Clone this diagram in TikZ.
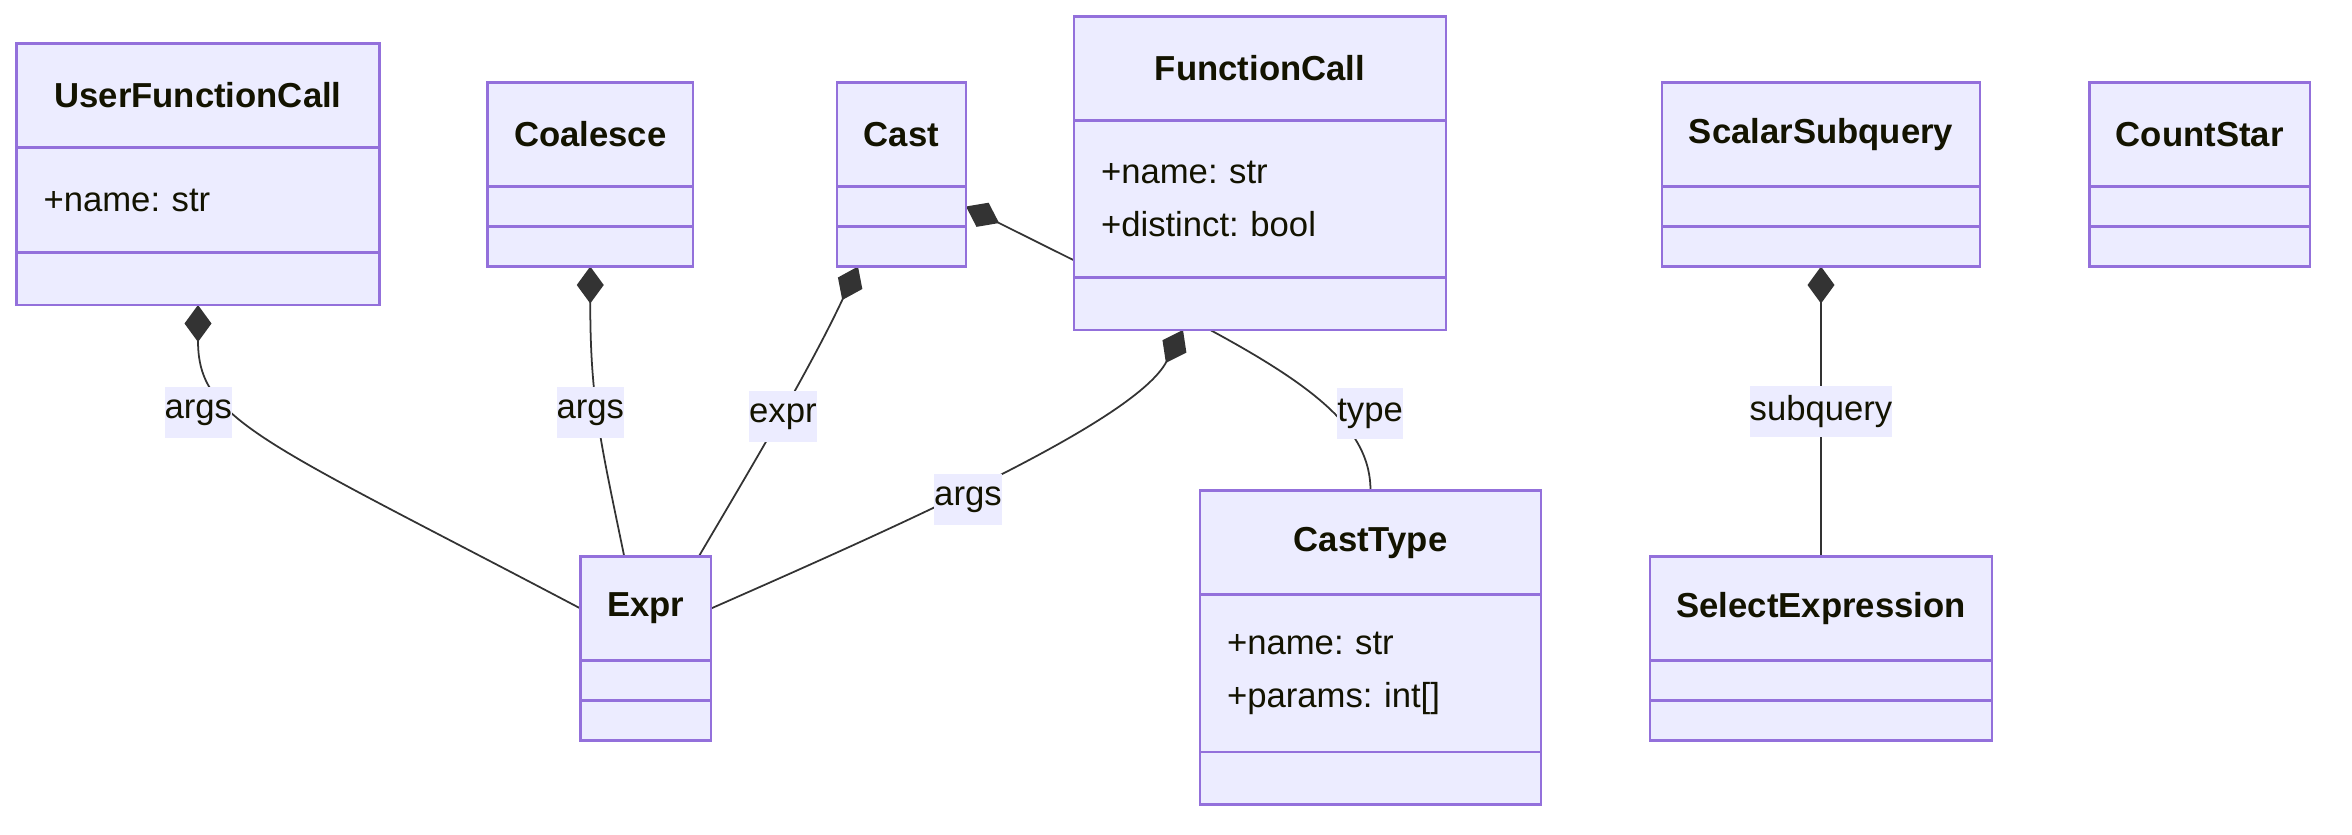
\documentclass[tikz,border=0pt]{standalone}
\usepackage{fontspec}
\setmainfont{Liberation Sans}
\usetikzlibrary{positioning, arrows.meta, backgrounds}

\definecolor{classfill}{HTML}{ECECFF}
\definecolor{classline}{HTML}{9370DB}
\definecolor{edgeline}{HTML}{333333}
\definecolor{labeltext}{HTML}{131300}

\newcommand{\umlsize}{\fontsize{9.87}{14.9}\selectfont}
\frenchspacing

\tikzstyle{classhead} = [
    rectangle,
    minimum height=1.04cm,
    fill=classfill,
    draw=classline,
    line width=0.6pt,
    outer sep=0pt,
    text=labeltext,
    font=\umlsize\bfseries
]
\tikzstyle{classattr} = [
    rectangle,
    inner xsep=0.27cm,
    inner ysep=0pt,
    align=left,
    fill=classfill,
    draw=classline,
    line width=0.6pt,
    outer sep=0pt,
    text=labeltext,
    font=\umlsize
]
\tikzstyle{emptypart} = [
    classattr,
    minimum height=0.4cm
]
\tikzstyle{edgelabel} = [
    fill=classfill,
    inner xsep=0pt,
    inner ysep=0pt,
    minimum height=0.51cm,
    text=labeltext,
    font=\umlsize
]
\tikzstyle{owns} = [edgeline, line width=0.5pt, {Diamond[length=3.7mm, width=2.7mm]}-]

\begin{document}
\begin{tikzpicture}

\useasboundingbox (0,0) rectangle (23.52,-8.34);

% top row
\node (ufc) [classhead, minimum width=3.63cm, anchor=north] at (1.98,-0.435) {UserFunctionCall};
\node (ufcattr) [classattr, text width=3.09cm, minimum height=1.05cm, below=0pt of ufc] {+name: str};
\node (ufcops) [emptypart, minimum width=3.63cm, minimum height=0.525cm, below=0pt of ufcattr] {};

\node (coa) [classhead, minimum width=2.055cm, anchor=north] at (5.9025,-0.825) {Coalesce};
\node (coaattr) [emptypart, minimum width=2.055cm, below=0pt of coa] {};
\node (coaops) [emptypart, minimum width=2.055cm, below=0pt of coaattr] {};

\node (cast) [classhead, minimum width=1.29cm, anchor=north] at (9.015,-0.825) {Cast};
\node (castattr) [emptypart, minimum width=1.29cm, below=0pt of cast] {};
\node (castops) [emptypart, minimum width=1.29cm, below=0pt of castattr] {};

\node (fc) [classhead, minimum width=3.72cm, anchor=north] at (12.60,-0.165) {FunctionCall};
\node (fcattr) [classattr, text width=3.18cm, minimum height=1.57cm, below=0pt of fc] {+name: str\\+distinct: bool};
\node (fcops) [emptypart, minimum width=3.72cm, minimum height=0.525cm, below=0pt of fcattr] {};

\node (ss) [classhead, minimum width=3.18cm, anchor=north] at (18.21,-0.825) {ScalarSubquery};
\node (ssattr) [emptypart, minimum width=3.18cm, below=0pt of ss] {};
\node (ssops) [emptypart, minimum width=3.18cm, below=0pt of ssattr] {};

\node (cstar) [classhead, minimum width=2.205cm, anchor=north] at (21.9975,-0.825) {CountStar};
\node (cstarattr) [emptypart, minimum width=2.205cm, below=0pt of cstar] {};
\node (cstarops) [emptypart, minimum width=2.205cm, below=0pt of cstarattr] {};

% bottom row
\node (expr) [classhead, minimum width=1.305cm, anchor=north] at (6.4575,-5.565) {Expr};
\node (exprattr) [emptypart, minimum width=1.305cm, below=0pt of expr] {};
\node (exprops) [emptypart, minimum width=1.305cm, below=0pt of exprattr] {};

\node (ctype) [classhead, minimum width=3.41cm, anchor=north] at (13.705,-4.905) {CastType};
\node (ctypeattr) [classattr, text width=2.87cm, minimum height=1.575cm, below=0pt of ctype] {+name: str\\+params: int[]};
\node (ctypeops) [emptypart, minimum width=3.41cm, minimum height=0.525cm, below=0pt of ctypeattr] {};

\node (sexpr) [classhead, minimum width=3.42cm, anchor=north] at (18.21,-5.565) {SelectExpression};
\node (sexprattr) [emptypart, minimum width=3.42cm, below=0pt of sexpr] {};
\node (sexprops) [emptypart, minimum width=3.42cm, below=0pt of sexprattr] {};

% compositions, behind the boxes
\begin{pgfonlayer}{background}
\draw [owns] (ufcops.south) .. controls +(0,-1.155) and +(-3.205,1.69) .. (expr.west)
    node[edgelabel, pos=0.33, xshift=-0.27cm, yshift=-0.16cm] {args};
\draw [owns] (coaops.south) .. controls +(0,-1.345) and +(-0.24,1.165) .. ([xshift=-0.215cm]expr.north)
    node[edgelabel, pos=0.47, xshift=-0.07cm, yshift=-0.02cm] {args};
\draw [owns] ([xshift=-0.435cm]castops.south) .. controls +(-0.47,-1.0) and +(0.59,1.0) .. ([xshift=0.53cm]expr.north)
    node[edgelabel, pos=0.5, yshift=-0.05cm] {expr};
\draw [owns] (castattr.east) .. controls +(2.84,-1.42) and +(0,0.9) .. (ctype.north)
    node[edgelabel, pos=0.68, xshift=0.38cm, yshift=-0.02cm] {type};
\draw [owns] ([xshift=-0.77cm]fcops.south) .. controls +(-0.47,-0.9) and +(2.0,0.88) .. (expr.east)
    node[edgelabel, pos=0.575, xshift=0.04cm, yshift=-0.08cm] {args};
\draw [owns] (ssops.south) -- (sexpr.north)
    node[edgelabel, pos=0.5] {subquery};
\end{pgfonlayer}

\end{tikzpicture}
\end{document}
